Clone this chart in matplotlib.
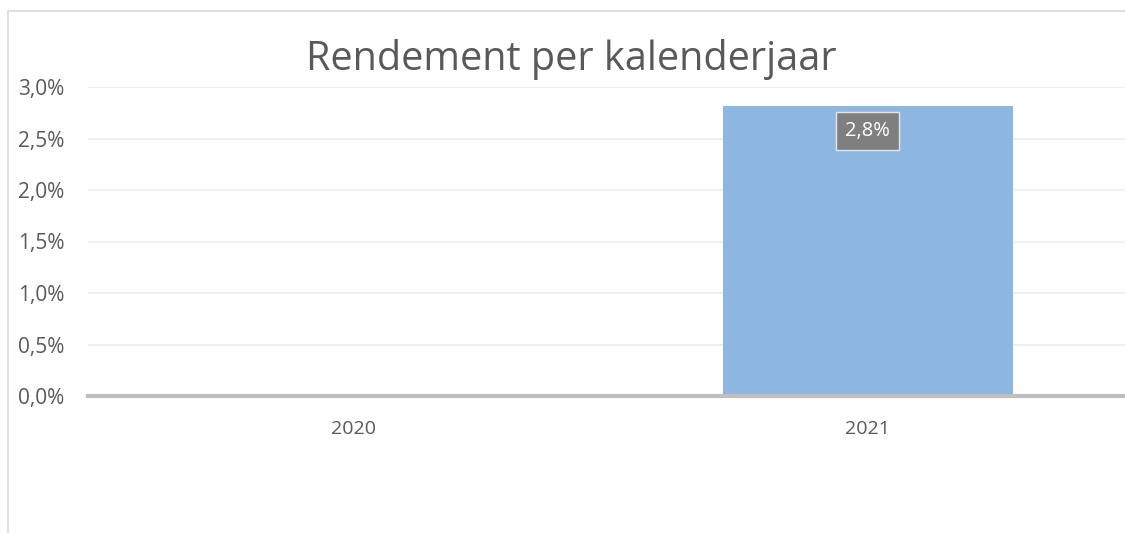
import matplotlib.pyplot as plt
from matplotlib.patches import Rectangle
from matplotlib.ticker import FuncFormatter

# data
years = ['2020', '2021']
returns = [0.0, 0.0282]
labels = ['', '2,8%']
yticks = [0.0, 0.005, 0.01, 0.015, 0.02, 0.025, 0.03]

plt.rcParams['font.family'] = ['Open Sans', 'DejaVu Sans']

fig = plt.figure(figsize=(11.25, 5.33), dpi=100)
# outer chart border (cut off at right and bottom)
fig.patches.append(Rectangle((8 / 1125, -0.1), 1.2, 1 - 11 / 533 + 0.1,
                             transform=fig.transFigure, fill=False,
                             edgecolor='#d9d9d9', linewidth=1.2))

ax = fig.add_axes([88 / 1125, 1 - 396 / 533, 1 - 88 / 1125, (396 - 87) / 533])
x = range(len(years))
bars = ax.bar(x, returns, width=0.563, color='#8db7e0', zorder=2)

ax.set_xlim(-0.515, 1.5)
ax.set_ylim(0, 0.03)
ax.set_yticks(yticks)
ax.yaxis.set_major_formatter(FuncFormatter(lambda v, p: f'{v*100:.1f}%'.replace('.', ',')))
ax.set_xticks(list(x))
ax.set_xticklabels(years)
ax.grid(axis='y', color='#ececec', linewidth=1.2, zorder=0)
for s in ['top', 'right', 'left']:
    ax.spines[s].set_visible(False)
ax.spines['bottom'].set_color('#bfbfbf')
ax.spines['bottom'].set_linewidth(3)
ax.spines['bottom'].set_zorder(3)
ax.tick_params(axis='both', length=0, colors='#595959')
ax.tick_params(axis='x', pad=17, labelsize=14)
ax.tick_params(axis='y', pad=17, labelsize=15)

for b, lab in zip(bars, labels):
    if lab:
        ax.text(b.get_x() + b.get_width() / 2, b.get_height() - 0.0025, lab,
                ha='center', va='center', color='white', fontsize=14.5,
                bbox=dict(boxstyle='square,pad=0.45', facecolor='#7f7f7f',
                          edgecolor='#e6e6e6', linewidth=1), zorder=4)

fig.text(571 / 1125, 1 - 60 / 533, 'Rendement per kalenderjaar', ha='center',
         va='center', fontsize=28.5, color='#595959')

fig.savefig('out.png', dpi=100)
